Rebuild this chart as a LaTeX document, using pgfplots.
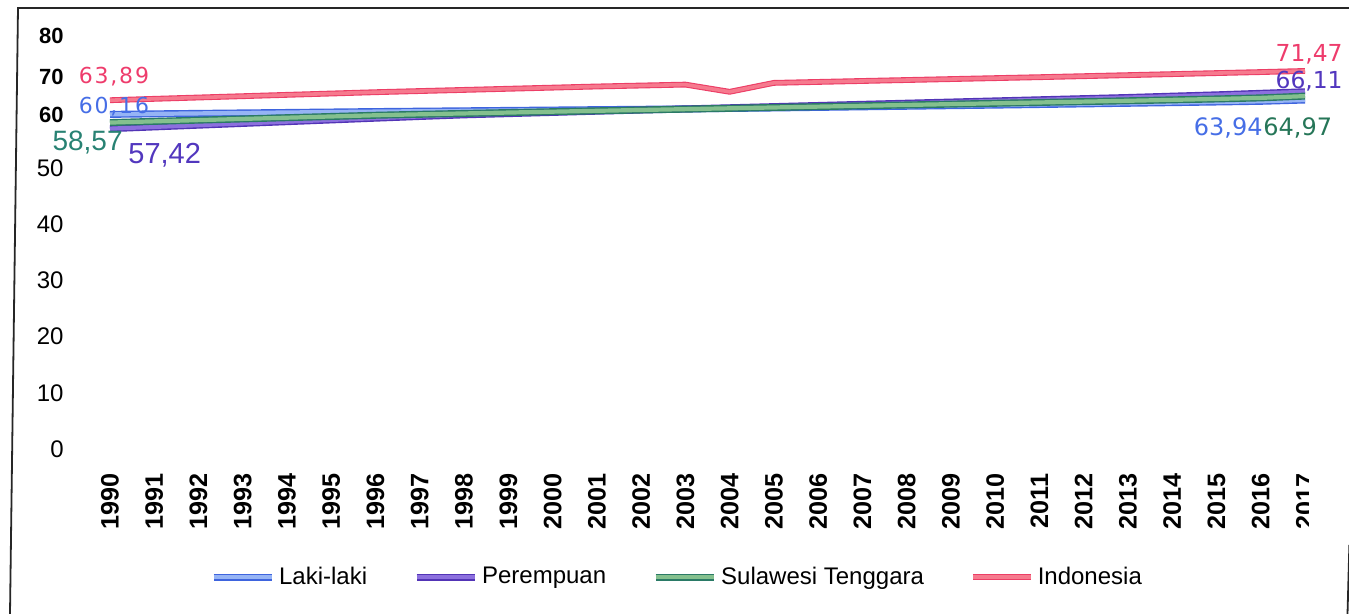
\documentclass[border=0pt]{standalone}
\usepackage{fontspec}
\usepackage{pgfplots}
\pgfplotsset{compat=1.18}
\setmainfont{Liberation Sans}
\newfontfamily\wideface[LetterSpace=8]{DejaVu Sans}
\newfontfamily\dvface{DejaVu Sans}

\definecolor{lakiedge}{RGB}{62,100,222}
\definecolor{lakifill}{RGB}{150,180,245}
\definecolor{peredge}{RGB}{82,52,182}
\definecolor{perfill}{RGB}{140,112,222}
\definecolor{suledge}{RGB}{42,122,102}
\definecolor{sulfill}{RGB}{132,192,142}
\definecolor{indoedge}{RGB}{236,62,102}
\definecolor{indofill}{RGB}{246,122,142}
\definecolor{lblred}{RGB}{238,60,108}
\definecolor{lblblue}{RGB}{70,110,230}
\definecolor{lblgreen}{RGB}{40,130,115}
\definecolor{lblpurple}{RGB}{82,55,190}
\definecolor{lblgreenb}{RGB}{38,118,88}

\newcommand\toplbl[1]{{\fontsize{11}{11}\selectfont\bfseries #1}}

\tikzset{
  lakiline/.style={draw=lakiedge, double=lakifill, line width=0.7pt, double distance=2.1pt, line join=round},
  perline/.style={draw=peredge, double=perfill, line width=0.7pt, double distance=2.1pt, line join=round},
  sulline/.style={draw=suledge, double=sulfill, line width=0.7pt, double distance=2.1pt, line join=round},
  indoline/.style={draw=indoedge, double=indofill, line width=0.55pt, double distance=1.8pt, line join=round},
}

\begin{document}
\begin{tikzpicture}[x=0.5pt,y=0.5pt]
\useasboundingbox (0,0) rectangle (1349,614);
% the last year label runs off the right edge of the frame
\clip (0,0) -- (1349,0) -- (1349,69) -- (1308,69) -- (1308,150) -- (1349,150) -- (1349,614) -- (0,614) -- cycle;

\begin{axis}[
  at={(55pt,82.5pt)}, anchor=south west,
  scale only axis, width=597.5pt, height=206.5pt,
  xmin=1990, xmax=2017, ymin=0, ymax=80,
  clip=false,
  % value axis stretched piecewise, as the tick labels are spaced
  y coord trafo/.code={\pgfmathparse{ifthenelse(#1<=50,5.62*#1,ifthenelse(#1<=60,281+5.3*(#1-50),ifthenelse(#1<=70,334+3.8*(#1-60),372+4.1*(#1-70))))}},
  axis line style={draw=none},
  major tick length=0pt,
  xtick={1990,1991,...,2017},
  ytick={0,10,20,30,40,50,60,70,80},
  yticklabels={0,10,20,30,40,50,\toplbl{60},\toplbl{70},\toplbl{80}},
  /pgf/number format/1000 sep={},
  /pgf/number format/assume math mode=true,
  xticklabel style={rotate=90, anchor=east, inner sep=0pt, font=\fontsize{12.6}{13}\selectfont\bfseries},
  xticklabel shift=12pt,
  yticklabel style={anchor=east, inner sep=0pt, font=\fontsize{12}{12}\selectfont},
  yticklabel shift=23pt,
  legend style={at={(0.4753,-0.310)}, anchor=center, draw=none, fill=none,
    legend columns=-1, font=\fontsize{12}{14}\selectfont, inner sep=0pt,
    /tikz/every even column/.append style={column sep=21pt}},
  legend image code/.code={\draw[#1] (0pt,0pt) -- (29pt,0pt);},
]

\addplot[lakiline] coordinates {
 (1990,60.16) (1991,60.30) (1992,60.42) (1993,60.54) (1994,60.66) (1995,60.78)
 (1996,60.90) (1997,61.00) (1998,61.10) (1999,61.20) (2000,61.30) (2001,61.40)
 (2002,61.50) (2003,61.60) (2004,61.72) (2005,61.85) (2006,62.00) (2007,62.15)
 (2008,62.30) (2009,62.45) (2010,62.60) (2011,62.76) (2012,62.92) (2013,63.08)
 (2014,63.25) (2015,63.42) (2016,63.60) (2017,63.94)};
\addlegendentry{Laki-laki}

\addplot[perline] coordinates {
 (1990,57.42) (1991,57.75) (1992,58.08) (1993,58.41) (1994,58.74) (1995,59.07)
 (1996,59.40) (1997,59.72) (1998,60.04) (1999,60.36) (2000,60.68) (2001,61.00)
 (2002,61.30) (2003,61.60) (2004,61.90) (2005,62.20) (2006,62.50) (2007,62.80)
 (2008,63.10) (2009,63.40) (2010,63.70) (2011,64.00) (2012,64.30) (2013,64.60)
 (2014,64.95) (2015,65.30) (2016,65.70) (2017,66.11)};
\addlegendentry{Perempuan}

\addplot[sulline] coordinates {
 (1990,58.57) (1991,58.80) (1992,59.03) (1993,59.26) (1994,59.49) (1995,59.72)
 (1996,59.95) (1997,60.18) (1998,60.41) (1999,60.64) (2000,60.87) (2001,61.10)
 (2002,61.32) (2003,61.54) (2004,61.76) (2005,61.98) (2006,62.20) (2007,62.42)
 (2008,62.64) (2009,62.86) (2010,63.08) (2011,63.30) (2012,63.52) (2013,63.74)
 (2014,63.98) (2015,64.22) (2016,64.50) (2017,64.97)};
\addlegendentry{Sulawesi Tenggara}

\addplot[indoline] coordinates {
 (1990,63.89) (1991,64.25) (1992,64.60) (1993,64.95) (1994,65.30) (1995,65.65)
 (1996,66.00) (1997,66.30) (1998,66.60) (1999,66.90) (2000,67.20) (2001,67.50)
 (2002,67.75) (2003,68.00) (2004,66.10) (2005,68.45) (2006,68.70) (2007,68.95)
 (2008,69.20) (2009,69.45) (2010,69.70) (2011,69.95) (2012,70.20) (2013,70.45)
 (2014,70.70) (2015,70.95) (2016,71.20) (2017,71.47)};
\addlegendentry{Indonesia}

% value labels at the first and last year
\node[anchor=center, text=lblred, font=\wideface\fontsize{11}{11}\selectfont, xshift=2pt, yshift=12pt] at (axis cs:1990,63.89) {63,89};
\node[anchor=center, text=lblblue, font=\wideface\fontsize{11}{11}\selectfont, xshift=2pt, yshift=4pt] at (axis cs:1990,60.16) {60,16};
\node[anchor=east, text=lblgreen, inner sep=0pt, font=\fontsize{14}{14}\selectfont, xshift=6.5pt, yshift=-10.2pt] at (axis cs:1990,58.57) {58,57};
\node[anchor=west, text=lblpurple, inner sep=0pt, font=\fontsize{14.5}{14.5}\selectfont, xshift=9pt, yshift=-13.2pt] at (axis cs:1990,57.42) {57,42};

\node[anchor=east, text=lblred, inner sep=0pt, font=\dvface\fontsize{11.7}{11.7}\selectfont, xshift=19pt, yshift=8.5pt] at (axis cs:2017,71.47) {71,47};
\node[anchor=east, text=lblpurple, inner sep=0pt, font=\dvface\fontsize{11.7}{11.7}\selectfont, xshift=19pt, yshift=5.4pt] at (axis cs:2017,66.11) {66,11};
\node[anchor=east, text=lblblue, inner sep=0pt, font=\dvface\fontsize{12}{12}\selectfont, xshift=-21pt, yshift=-14pt] at (axis cs:2017,63.94) {63,94};
\node[anchor=west, text=lblgreenb, inner sep=0pt, font=\dvface\fontsize{12}{12}\selectfont, xshift=-21pt, yshift=-16pt] at (axis cs:2017,64.97) {64,97};
\end{axis}

% outer frame of the figure
\draw[line width=0.9pt, black!85] (10,0) -- (18,606) -- (1349,606);
\draw[line width=0.9pt, black!85] (1349.5,74) -- (1347.5,0);
\end{tikzpicture}
\end{document}
